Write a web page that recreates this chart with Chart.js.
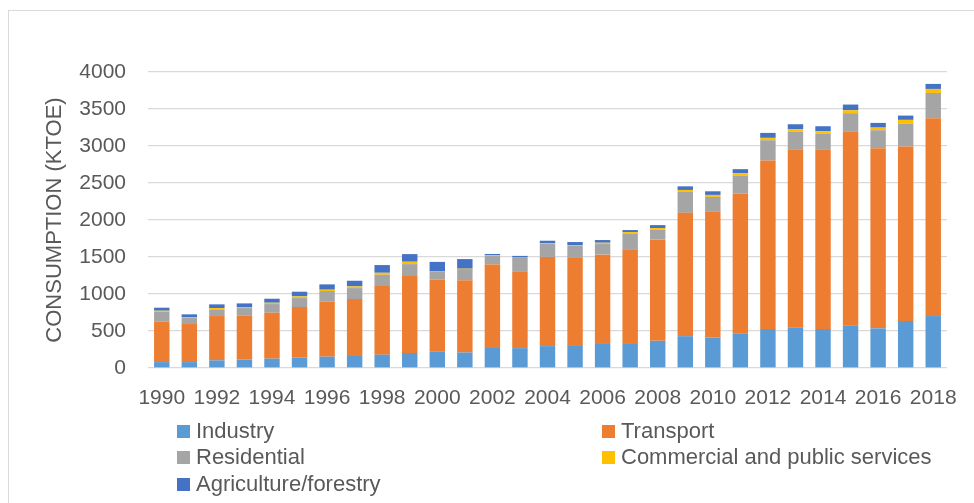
<!DOCTYPE html>
<html>
<head>
<meta charset="utf-8">
<script src="https://cdn.jsdelivr.net/npm/chart.js@4/dist/chart.umd.min.js"></script>
<style>
    body { margin: 0; background: #fff; }
    #wrap { position: relative; width: 974px; height: 503px; overflow: hidden; }
    #frame { position: absolute; left: 8px; top: 10px; width: 1000px; height: 600px;
             border-left: 1px solid #d9d9d9; border-top: 1px solid #d9d9d9; }
    #myChart { position: absolute; left: 0; top: 0; }
    #legend { position: absolute; left: 0; top: 0; font-family: "Liberation Sans", Arial, sans-serif;
              font-size: 22px; color: #595959; }
    .item { position: absolute; white-space: nowrap; line-height: 26px; }
    .box { display: inline-block; width: 13px; height: 13px; margin-right: 6px; vertical-align: 0px; }
</style>
</head>
<body>
<div id="wrap">
    <div id="frame"></div>
    <canvas id="myChart" width="974" height="503"></canvas>
    <div id="legend"></div>
</div>
<script>
var years = [];
for (let y = 1990; y <= 2018; y++) years.push(String(y));

var industry    = [80, 80, 104, 113, 126, 140, 153, 162, 180, 203, 220, 210, 270, 268, 296, 309, 336, 336, 367, 430, 412, 464, 527, 545, 527, 572, 536, 635, 702];
var transport   = [545, 514, 598, 598, 621, 684, 743, 770, 927, 1039, 976, 977, 1128, 1040, 1205, 1187, 1196, 1268, 1371, 1667, 1707, 1894, 2277, 2412, 2430, 2628, 2434, 2358, 2673];
var residential = [135, 81, 90, 99, 117, 121, 144, 148, 153, 162, 103, 150, 121, 180, 183, 153, 143, 215, 130, 282, 193, 243, 274, 238, 207, 243, 243, 306, 342];
var commercial  = [14, 14, 18, 14, 18, 23, 18, 23, 27, 32, 5, 5, 5, 4, 5, 13, 18, 18, 23, 27, 27, 32, 32, 32, 36, 40, 36, 54, 54];
var agriculture = [41, 36, 50, 49, 54, 63, 72, 76, 104, 103, 130, 130, 17, 23, 31, 40, 36, 27, 40, 49, 49, 54, 67, 67, 67, 77, 63, 58, 68];

var yTicks = [0, 500, 1000, 1500, 2000, 2500, 3000, 3500, 4000];

var fontFamily = '"Liberation Sans", Arial, sans-serif';
var textColor = '#595959';

function series(label, data, color) {
    return {
        label: label,
        data: data,
        backgroundColor: color,
        borderWidth: 0,
        categoryPercentage: 1,
        barPercentage: 0.56
    };
}

let ctx = document.getElementById('myChart').getContext('2d');

window.myChart = new Chart(ctx, {
    type: 'bar',
    data: {
        labels: years,
        datasets: [
            series('Industry', industry, '#5b9bd5'),
            series('Transport', transport, '#ed7d31'),
            series('Residential', residential, '#a5a5a5'),
            series('Commercial and public services', commercial, '#ffc000'),
            series('Agriculture/forestry', agriculture, '#4472c4')
        ]
    },
    options: {
        responsive: false,
        animation: false,
        layout: {
            padding: { left: 0, right: 27, top: 72, bottom: 95 }
        },
        scales: {
            x: {
                stacked: true,
                grid: { display: false },
                border: { display: false },
                afterFit: function (scale) { scale.height = 40; },
                ticks: {
                    autoSkip: false,
                    maxRotation: 0,
                    padding: 10,
                    color: textColor,
                    font: { family: fontFamily, size: 21 },
                    callback: function (value, index) {
                        return index % 2 === 0 ? years[index] : '';
                    }
                }
            },
            y: {
                stacked: true,
                min: 0,
                max: 4000,
                afterFit: function (scale) { scale.width = 148; },
                afterBuildTicks: function (scale) {
                    scale.ticks = yTicks.map(v => ({ value: v }));
                },
                grid: {
                    color: '#d9d9d9',
                    lineWidth: 1.3,
                    drawTicks: false
                },
                border: { display: false },
                ticks: {
                    padding: 22,
                    color: textColor,
                    font: { family: fontFamily, size: 21 },
                    callback: function (value) { return String(value); }
                },
                title: {
                    display: true,
                    text: 'CONSUMPTION (KTOE)',
                    color: textColor,
                    font: { family: fontFamily, size: 22 },
                    padding: { top: 42, bottom: 0 }
                }
            }
        },
        plugins: {
            legend: { display: false },
            tooltip: { enabled: false }
        }
    }
});

// legend in two columns, like the original
let legendPos = [[177, 418], [602, 418], [177, 444], [602, 444], [177, 471]];
let legend = document.getElementById('legend');
window.myChart.data.datasets.forEach((ds, i) => {
    let item = document.createElement('div');
    item.className = 'item';
    item.style.left = legendPos[i][0] + 'px';
    item.style.top = legendPos[i][1] + 'px';
    item.innerHTML = '<span class="box" style="background:' + ds.backgroundColor + '"></span>' + ds.label;
    legend.appendChild(item);
});
</script>
</body>
</html>
